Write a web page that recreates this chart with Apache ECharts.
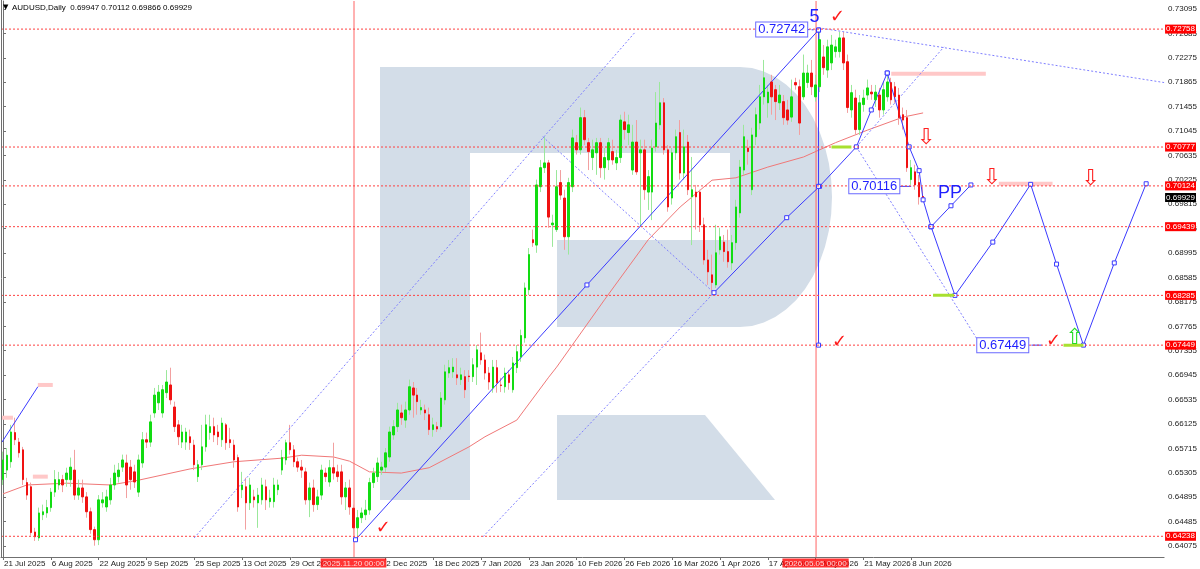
<!DOCTYPE html>
<html><head><meta charset="utf-8">
<script src="https://cdn.jsdelivr.net/npm/echarts@6/dist/echarts.min.js"></script>
<style>html,body{margin:0;padding:0;background:#fff}#c{width:1200px;height:569px}</style>
</head><body><div id="c"></div>
<script>
// ---------------- DATA ----------------
const symbolTitle = 'AUDUSD,Daily  0.69947 0.70112 0.69866 0.69929';
const firstDate = '2025-07-21';
const holidays = ['2025-12-25', '2026-01-01'];
const categoryCount = 292;

const opens = [
.6519,.6535,.6549,.6598,.6582,.6569,.6514,.6507,.6431,.6421,
.6460,.6463,.6472,.6498,.6510,.6519,.6519,.6519,.6535,.6493,
.6505,.6490,.6465,.6435,.6418,.6480,.6473,.6485,.6510,.6524,
.6540,.6547,.6540,.6532,.6498,.6547,.6586,.6582,.6631,.6648,
.6631,.6665,.6678,.6641,.6611,.6582,.6582,.6591,.6577,.6524,
.6544,.6574,.6598,.6608,.6599,.6586,.6611,.6586,.6577,.6556,
.6502,.6507,.6480,.6490,.6480,.6485,.6507,.6482,.6482,.6502,
.6535,.6552,.6581,.6569,.6549,.6540,.6532,.6485,.6505,.6477,
.6493,.6530,.6515,.6539,.6532,.6532,.6490,.6505,.6471,.6438,
.6455,.6460,.6468,.6514,.6524,.6535,.6540,.6557,.6594,.6608,
.6631,.6619,.6636,.6673,.6661,.6636,.6636,.6628,.6603,.6608,
.6608,.6653,.6698,.6700,.6695,.6687,.6692,.6693,.6692,.6708,
.6732,.6720,.6698,.6673,.6707,.6678,.6675,.6695,.6670,.6707,
.6725,.6757,.6838,.6922,.6913,.7011,.7043,.7051,.6947,.6939,
.7018,.6992,.6927,.7011,.7085,.7073,.7127,.7085,.7060,.7068,
.7085,.7043,.7056,.7070,.7051,.7060,.7120,.7102,.7039,.7086,
.7068,.7073,.7002,.7002,.7078,.7115,.7152,.7073,.6992,.7068,
.7102,.7034,.7086,.6994,.7002,.7002,.6947,.6888,.6863,.6846,
.6905,.6918,.6902,.6883,.6917,.6967,.7039,.7076,.7006,.7095,
.7118,.7162,.7152,.7187,.7174,.7152,.7154,.7140,.7128,.7186,
.7179,.7162,.7186,.7202,.7162,.7179,.7229,.7207,.7219,.7238,
.7238,.7261,.7221,.7140,.7160,.7107,.7149,.7165,.7170,.7157,
.7165,.7140,.7162,.7186,.7179,.7165,.7132,.7127,.7023,.7036,
.7018,.69947];
const closes = [
.6552,.6560,.6599,.6586,.6564,.6519,.6493,.6430,.6423,.6463,
.6465,.6472,.6498,.6519,.6519,.6510,.6530,.6540,.6493,.6505,
.6490,.6465,.6435,.6418,.6485,.6485,.6490,.6510,.6530,.6535,
.6552,.6510,.6519,.6515,.6552,.6586,.6582,.6616,.6661,.6666,
.6670,.6683,.6653,.6608,.6591,.6599,.6599,.6581,.6544,.6544,
.6574,.6611,.6608,.6594,.6591,.6614,.6581,.6581,.6552,.6473,
.6510,.6480,.6510,.6485,.6493,.6510,.6485,.6488,.6510,.6510,
.6556,.6581,.6569,.6549,.6540,.6535,.6485,.6505,.6477,.6490,
.6535,.6524,.6539,.6530,.6524,.6490,.6505,.6473,.6438,.6455,
.6463,.6468,.6514,.6530,.6547,.6540,.6564,.6599,.6608,.6636,
.6623,.6636,.6675,.6661,.6650,.6640,.6631,.6603,.6611,.6604,
.6656,.6700,.6707,.6708,.6690,.6695,.6670,.6692,.6712,.6737,
.6720,.6698,.6683,.6708,.6682,.6677,.6698,.6682,.6715,.6734,
.6761,.6841,.6897,.6917,.7014,.7043,.7051,.6960,.6950,.7011,
.6997,.6927,.7018,.7093,.7073,.7127,.7090,.7070,.7073,.7085,
.7043,.7060,.7085,.7056,.7060,.7123,.7107,.7115,.7086,.7036,
.7073,.7006,.7028,.7076,.7118,.7152,.7073,.6977,.7068,.7095,
.7034,.7078,.7006,.7006,.6994,.6947,.6888,.6868,.6850,.6900,
.6927,.6902,.6885,.6917,.6977,.7044,.7095,.7070,.7098,.7132,
.7162,.7194,.7170,.7162,.7154,.7165,.7127,.7123,.7162,.7182,
.7118,.7202,.7202,.7179,.7182,.7258,.7211,.7246,.7249,.7246,
.7261,.7219,.7144,.7169,.7107,.7152,.7160,.7177,.7167,.7170,
.7140,.7174,.7187,.7157,.7162,.7127,.7123,.7043,.7043,.7014,
.6994,.69929];
const lows = [
.6510,.6522,.6539,.6577,.6556,.6510,.6485,.6425,.6416,.6416,
.6451,.6455,.6465,.6490,.6502,.6498,.6507,.6507,.6485,.6485,
.6480,.6455,.6428,.6408,.6409,.6472,.6465,.6477,.6502,.6514,
.6532,.6488,.6502,.6505,.6490,.6539,.6572,.6574,.6623,.6636,
.6623,.6656,.6645,.6599,.6577,.6572,.6569,.6569,.6535,.6515,
.6535,.6566,.6586,.6582,.6577,.6574,.6569,.6572,.6539,.6465,
.6488,.6435,.6468,.6472,.6438,.6477,.6468,.6472,.6472,.6493,
.6527,.6544,.6561,.6540,.6532,.6522,.6477,.6456,.6465,.6468,
.6485,.6515,.6507,.6519,.6515,.6477,.6468,.6460,.6426,.6418,
.6446,.6451,.6460,.6505,.6515,.6527,.6532,.6549,.6586,.6599,
.6611,.6606,.6628,.6623,.6628,.6628,.6619,.6594,.6591,.6599,
.6603,.6645,.6690,.6690,.6678,.6678,.6656,.6683,.6683,.6678,
.6712,.6687,.6670,.6665,.6665,.6666,.6665,.6670,.6665,.6698,
.6717,.6749,.6829,.6910,.6900,.7002,.7034,.6942,.6910,.6935,
.6989,.6905,.6897,.7002,.7065,.7065,.7081,.7039,.7039,.7031,
.7026,.7023,.7039,.7048,.7039,.7051,.7090,.7081,.7031,.7031,
.6944,.6989,.6972,.6955,.7070,.7107,.7065,.6969,.6981,.7056,
.7023,.7023,.6997,.6913,.6939,.6935,.6880,.6846,.6833,.6841,
.6897,.6885,.6875,.6871,.6905,.6959,.7031,.7048,.6997,.7081,
.7107,.7149,.7127,.7132,.7123,.7140,.7115,.7115,.7120,.7174,
.7098,.7157,.7177,.7165,.7154,.7170,.7199,.7194,.7207,.7228,
.7228,.7207,.7135,.7127,.7098,.7098,.7137,.7157,.7157,.7145,
.7127,.7132,.7154,.7149,.7152,.7115,.7107,.7036,.7014,.7006,
.6981,.69866];
const highs = [
.6566,.6572,.6611,.6623,.6589,.6574,.6522,.6514,.6438,.6472,
.6477,.6485,.6505,.6535,.6532,.6527,.6539,.6556,.6569,.6519,
.6519,.6498,.6472,.6440,.6493,.6498,.6502,.6522,.6544,.6547,
.6561,.6561,.6552,.6544,.6561,.6599,.6598,.6628,.6673,.6678,
.6678,.6703,.6707,.6650,.6619,.6611,.6606,.6603,.6586,.6552,
.6611,.6628,.6628,.6623,.6611,.6623,.6614,.6606,.6586,.6561,
.6532,.6522,.6522,.6502,.6505,.6522,.6519,.6502,.6522,.6519,
.6569,.6586,.6611,.6577,.6556,.6552,.6539,.6514,.6519,.6502,
.6544,.6539,.6552,.6581,.6544,.6544,.6515,.6519,.6477,.6468,
.6472,.6485,.6522,.6539,.6556,.6549,.6572,.6608,.6619,.6648,
.6645,.6650,.6687,.6683,.6673,.6653,.6645,.6640,.6623,.6616,
.6666,.6712,.6720,.6723,.6723,.6707,.6703,.6703,.6723,.6745,
.6766,.6729,.6708,.6720,.6720,.6690,.6707,.6703,.6725,.6745,
.6771,.6850,.6908,.6939,.7023,.7056,.7095,.7056,.6964,.7039,
.7039,.7006,.7026,.7107,.7098,.7144,.7140,.7093,.7090,.7093,
.7093,.7076,.7093,.7090,.7073,.7132,.7137,.7132,.7115,.7123,
.7090,.7090,.7039,.7090,.7170,.7187,.7160,.7081,.7076,.7107,
.7123,.7107,.7098,.7061,.7014,.7006,.6959,.6905,.6897,.6947,
.6942,.6930,.6939,.6930,.6989,.7056,.7115,.7090,.7110,.7144,
.7182,.7224,.7182,.7199,.7182,.7182,.7165,.7157,.7191,.7194,
.7191,.7233,.7216,.7224,.7199,.72742,.7249,.7258,.7266,.7258,
.7271,.7271,.7233,.7182,.7174,.7165,.7174,.7191,.7182,.7182,
.7177,.7187,.7199,.7194,.7187,.7177,.7144,.7140,.7056,.7048,
.7031,.70112];

// moving average: [bar index, price]
const maLine = [[0,.6495],[6,.6510],[16,.6513],[27,.6510],[34,.6518],[47,.6537],[58,.6549],[70,.6555],[75,.6560],[83,.6557],[87,.6550],[92,.6532],[100,.6530],[107,.6539],[117,.6574],[121,.6591],[129,.6619],[137,.6691],[139,.6708],[151,.6821],[162,.6922],[170,.6977],[178,.7022],[184,.7026],[192,.7044],[201,.7061],[209,.7085],[217,.7106],[226,.7128],[231,.7135]];

const yTickValues = [0.64075,0.64485,0.64895,0.65305,0.65715,0.66125,0.66535,0.66945,0.67355,0.67765,0.68175,0.68585,0.68995,0.69405,0.69815,0.70225,0.70635,0.71045,0.71455,0.71865,0.72275,0.72685,0.73095];
const levelPrices = [0.72758, 0.70777, 0.70124, 0.69439, 0.68285, 0.67449, 0.64238];
const lastPrice = 0.69929;
const markerBars = [88, 204];
const markerDateTexts = ['2025.11.20 00:00', '2026.05.05 00:00'];

// drawing objects, [bar index, price]
const lineA = [[88.5,0.6418],[146.6,0.6846],[204.75,0.72742]];
const channelUpper = [[48,0.6421],[158.75,0.7271]];
const channelLower = [[120.5,0.6423],[178.5,0.6833]];
const crossDown = [[135.5,0.7095],[178.5,0.6833]];
const waveUp = [[178.5,0.6833],[196.75,0.6959],[205,0.70116],[214.25,0.7078],[218,0.7140],[222,0.7202]];
const waveUpExt = [[214.25,0.7078],[236.25,0.7246]];
const targetDiag = [[214.25,0.7078],[245.5,0.6745]];
const topFan = [[204.75,0.7278],[291.5,0.7186]];
const vertical5 = [[204.75,0.72742],[204.75,0.70116],[204.75,0.67449]];
const waveDown = [[222,0.7202],[227.5,0.7078],[230,0.7038],[231,0.6989],[233,0.69439]];
const forecast = [[233,0.69439],[239,0.68285],[248.5,0.6918],[258,0.7015],[264.5,0.6881],[271.25,0.67449],[279,0.6883],[287,0.7016]];
const forecastPP = [[233,0.69439],[238,0.6979],[243,0.7014]];
const oldLine = [[-0.25,0.6582],[8.75,0.6675]];
const boxDash1 = [[202,0.7275],[204.75,0.72742]];
const boxDash2 = [[225.2,0.70116],[228,0.70116]];
const boxDash3 = [[258.2,0.67449],[260.8,0.67449]];
const pinkBars = [
  [[223,0.7201],[246.75,0.7201]],
  [[250,0.7016],[263.5,0.7016]],
  [[8.75,0.6678],[12.5,0.6678]],
  [[-0.25,0.6623],[2.5,0.6623]],
  [[7.5,0.6524],[11.25,0.6524]]
];
const greenBars = [
  [[208,0.70777],[213,0.70777]],
  [[233.5,0.68285],[238.75,0.68285]],
  [[266.25,0.67449],[271.25,0.67449]]
];
const boxTexts = [
  {text:'0.72742', at:[195.5,0.7275]},
  {text:'0.70116', at:[218.75,0.70116]},
  {text:'0.67449', at:[251,0.67449]}
];
const blueTexts = [{text:'5', at:[203.75,0.7296]},{text:'PP', at:[237.75,0.7000]}];
const checkMarks = [[209.5,0.7296],[95.5,0.6438],[210,0.6749],[263.75,0.6751]];
const downArrows = [[231.75,0.7093],[248.25,0.7026],[273,0.7024]];
const upArrows = [[269,0.6757]];

// ---------------- BUILD ----------------
const MONTHS = ['Jan','Feb','Mar','Apr','May','Jun','Jul','Aug','Sep','Oct','Nov','Dec'];
const dates = [];
(function(){
  let d = new Date(firstDate + 'T00:00:00Z');
  while (dates.length < categoryCount) {
    const wd = d.getUTCDay();
    const s = d.toISOString().slice(0,10);
    if (wd !== 0 && wd !== 6 && holidays.indexOf(s) < 0) dates.push(s);
    d.setUTCDate(d.getUTCDate() + 1);
  }
})();
function fmtDate(s){ const p = s.split('-'); return (+p[2]) + ' ' + MONTHS[+p[1]-1] + ' ' + p[0]; }
function showLabel(idx){ return idx % 12 === 0 && idx <= 228 && idx !== 84; }

const wickData = opens.map((o,i)=>[o, closes[i], lows[i], highs[i]]);
const bodyData = opens.map((o,i)=>[o, closes[i], Math.min(o,closes[i]), Math.max(o,closes[i])]);

const FONT = '"Liberation Sans", Arial, sans-serif';
const BLUE = '#3a3aff';
const BLUE_DOT = '#7f7fff';
const X_MIN = -0.5, X_MAX = categoryCount - 0.5;
const Y_MIN = 0.6389, Y_MAX = 0.7323;
const PX_ALIGN = 0.125; // half-pixel shift (in bar units) so 1px vertical lines render crisp

function lineSeries(data, color, type, width, markers, z) {
  return {
    type:'line', xAxisIndex:1, yAxisIndex:0, data:data, z: z || 4,
    lineStyle:{color:color, type:type, width:width},
    symbol: markers ? 'rect' : 'none', symbolSize: 4, showSymbol: !!markers,
    itemStyle:{color:'#ffffff', borderColor: color, borderWidth:1},
    silent:true, animation:false
  };
}
function textSeries(items, labelStyle, z){
  return {
    type:'scatter', xAxisIndex:1, yAxisIndex:0, z: z || 6, symbolSize:1,
    itemStyle:{color:'rgba(0,0,0,0)'}, silent:true, animation:false,
    data: items.map(it=>({name: it.text, value: it.at})),
    label: Object.assign({show:true, position:'inside', formatter:'{b}', fontFamily:FONT, opacity:1}, labelStyle)
  };
}
function priceLabel(bg){
  return {show:true, backgroundColor:bg, color:'#ffffff', fontSize:8, fontFamily:FONT, padding:[1,1,0,1], distance:1};
}

const series = [];
levelPrices.forEach(v=>{
  const s = lineSeries([[X_MIN,v],[X_MAX,v]], '#ff4040', [2,2], 1, false, 2);
  s.endLabel = Object.assign(priceLabel('#ff0000'), {formatter: v.toFixed(5)});
  s.z = 5;
  series.push(s);
});
(function(){
  const s = lineSeries([[X_MIN,lastPrice],[X_MAX,lastPrice]], '#000000', 'solid', 0, false, 5);
  s.lineStyle.opacity = 0;
  s.endLabel = Object.assign(priceLabel('#000000'), {formatter: lastPrice.toFixed(5)});
  series.push(s);
})();
markerBars.forEach((b,k)=>{
  const s = lineSeries([[b + PX_ALIGN,Y_MIN],[b + PX_ALIGN,Y_MAX]], '#ff6464', 'solid', 1, false, 2);
  s.clip = false;
  series.push(s);
  series.push({
    type:'scatter', xAxisIndex:1, yAxisIndex:0, z:7, symbolSize:1, silent:true, animation:false,
    itemStyle:{color:'rgba(0,0,0,0)'}, clip:false,
    data:[{name: markerDateTexts[k], value:[b, Y_MIN]}],
    label:{show:true, position:'bottom', distance:1, formatter:'{b}', backgroundColor:'#ff0000', color:'#ffffff', fontSize:8, fontFamily:FONT, padding:[1,2,0,2]}
  });
});
series.push({
  type:'candlestick', name:'wick', xAxisIndex:0, yAxisIndex:0, barWidth:1, data:wickData, z:3,
  itemStyle:{color:'#9be89b', color0:'#f2a0a0', borderColor:'#9be89b', borderColor0:'#f2a0a0', borderWidth:1}
});
series.push({
  type:'candlestick', name:'body', xAxisIndex:0, yAxisIndex:0, barWidth:2, data:bodyData, z:4,
  itemStyle:{color:'#12dc12', color0:'#f01212', borderColor:'#12dc12', borderColor0:'#f01212', borderWidth:1}
});
series.push(lineSeries(maLine, '#f07878', 'solid', 1, false, 3));
pinkBars.forEach(b=>series.push(lineSeries(b, '#ffc8c8', 'solid', 4, false, 2)));
series.push(lineSeries(channelUpper, BLUE_DOT, [2,2], 1, false));
series.push(lineSeries(channelLower, BLUE_DOT, [2,2], 1, false));
series.push(lineSeries(crossDown, BLUE_DOT, [2,2], 1, false));
series.push(lineSeries(waveUpExt, BLUE_DOT, [2,2], 1, false));
series.push(lineSeries(targetDiag, BLUE_DOT, [2,2], 1, false));
series.push(lineSeries(topFan, BLUE_DOT, [2,2], 1, false));
series.push(lineSeries(boxDash1, BLUE, [2,2], 1, false));
series.push(lineSeries(boxDash2, BLUE, 'solid', 1, false));
series.push(lineSeries(boxDash3, BLUE, 'solid', 1, false));
series.push(lineSeries(oldLine, BLUE, 'solid', 1, false));
series.push(lineSeries(lineA, BLUE, 'solid', 1, true));
series.push(lineSeries(waveUp, BLUE, 'solid', 1, true));
series.push(lineSeries(vertical5, BLUE, 'solid', 1, true));
series.push(lineSeries(waveDown, BLUE, 'solid', 1, true));
series.push(lineSeries(forecast, BLUE, 'solid', 1, true));
series.push(lineSeries(forecastPP, BLUE, 'solid', 1, true));
greenBars.forEach(b=>series.push(lineSeries(b, '#a8e030', 'solid', 3, false, 5)));
series.push(textSeries(boxTexts, {fontSize:13, color:'#1f1fff', backgroundColor:'#ffffff', borderColor:'#6a6aff', borderWidth:1, padding:[1,2,0,2]}));
series.push(textSeries(blueTexts, {fontSize:18, color:'#1f1fff'}));
series.push(textSeries(checkMarks.map(a=>({text:'✓', at:a})), {fontSize:18, color:'#ff1a1a', fontWeight:'bold', fontFamily:'"DejaVu Sans", sans-serif'}));
series.push(textSeries(downArrows.map(a=>({text:'⇩', at:a})), {fontSize:22, color:'#ff2020', fontFamily:'"DejaVu Sans", sans-serif'}));
series.push(textSeries(upArrows.map(a=>({text:'⇧', at:a})), {fontSize:22, color:'#22dd22', fontFamily:'"DejaVu Sans", sans-serif'}));

// watermark logo geometry (decoration)
const LOGO = '#d3dde8';
const bowl = [[470,67],[740,67]];
for (let k=1;k<24;k++){ const a = -Math.PI/2 + Math.PI*k/24; bowl.push([740+92*Math.cos(a), 197+130*Math.sin(a)]); }
bowl.push([740,327],[557,327],[557,240],[730,240],[730,153],[470,153]);

const chart = echarts.init(document.getElementById('c'), null, {renderer:'canvas'});
chart.setOption({
  animation:false,
  backgroundColor:'#ffffff',
  grid:{left:1, top:1, width:1168, height:556, containLabel:false},
  xAxis:[{
    type:'category', data:dates, boundaryGap:true,
    axisLine:{show:true, lineStyle:{color:'#707070'}},
    axisTick:{show:true, alignWithLabel:true, interval:(i)=>showLabel(i), length:3, lineStyle:{color:'#707070'}},
    axisLabel:{interval:(i)=>showLabel(i), formatter:(v)=>fmtDate(v), align:'left', fontSize:8, color:'#222', margin:3, fontFamily:FONT, padding:[0,0,0,1]},
    splitLine:{show:false}
  },{
    type:'value', min:X_MIN, max:X_MAX, show:false
  }],
  yAxis:[{
    type:'value', position:'right', min:Y_MIN, max:Y_MAX, scale:true,
    splitLine:{show:false},
    axisLine:{show:true, lineStyle:{color:'#707070'}},
    axisTick:{show:true, length:3, customValues:yTickValues, lineStyle:{color:'#707070'}},
    axisLabel:{customValues:yTickValues, formatter:(v)=>v.toFixed(5), fontSize:8, color:'#222', margin:4, fontFamily:FONT}
  }],
  graphic:[
    {type:'rect', z:-10, silent:true, shape:{x:380,y:67,width:90,height:433}, style:{fill:LOGO}},
    {type:'polygon', z:-10, silent:true, shape:{points:bowl}, style:{fill:LOGO}},
    {type:'polygon', z:-10, silent:true, shape:{points:[[557,415],[705,415],[775,500],[557,500]]}, style:{fill:LOGO}},
    {type:'line', z:10, silent:true, shape:{x1:1.5,y1:0,x2:1.5,y2:557}, style:{stroke:'#707070', lineWidth:1}},
    {type:'text', z:10, silent:true, x:3, y:4, style:{text:'▼', fontSize:7, fill:'#000', fontFamily:'"DejaVu Sans", sans-serif'}},
    {type:'text', z:10, silent:true, x:12, y:4, style:{text:symbolTitle, fontSize:8, fill:'#000', fontFamily:FONT}}
  ],
  series: series
});
</script></body></html>
